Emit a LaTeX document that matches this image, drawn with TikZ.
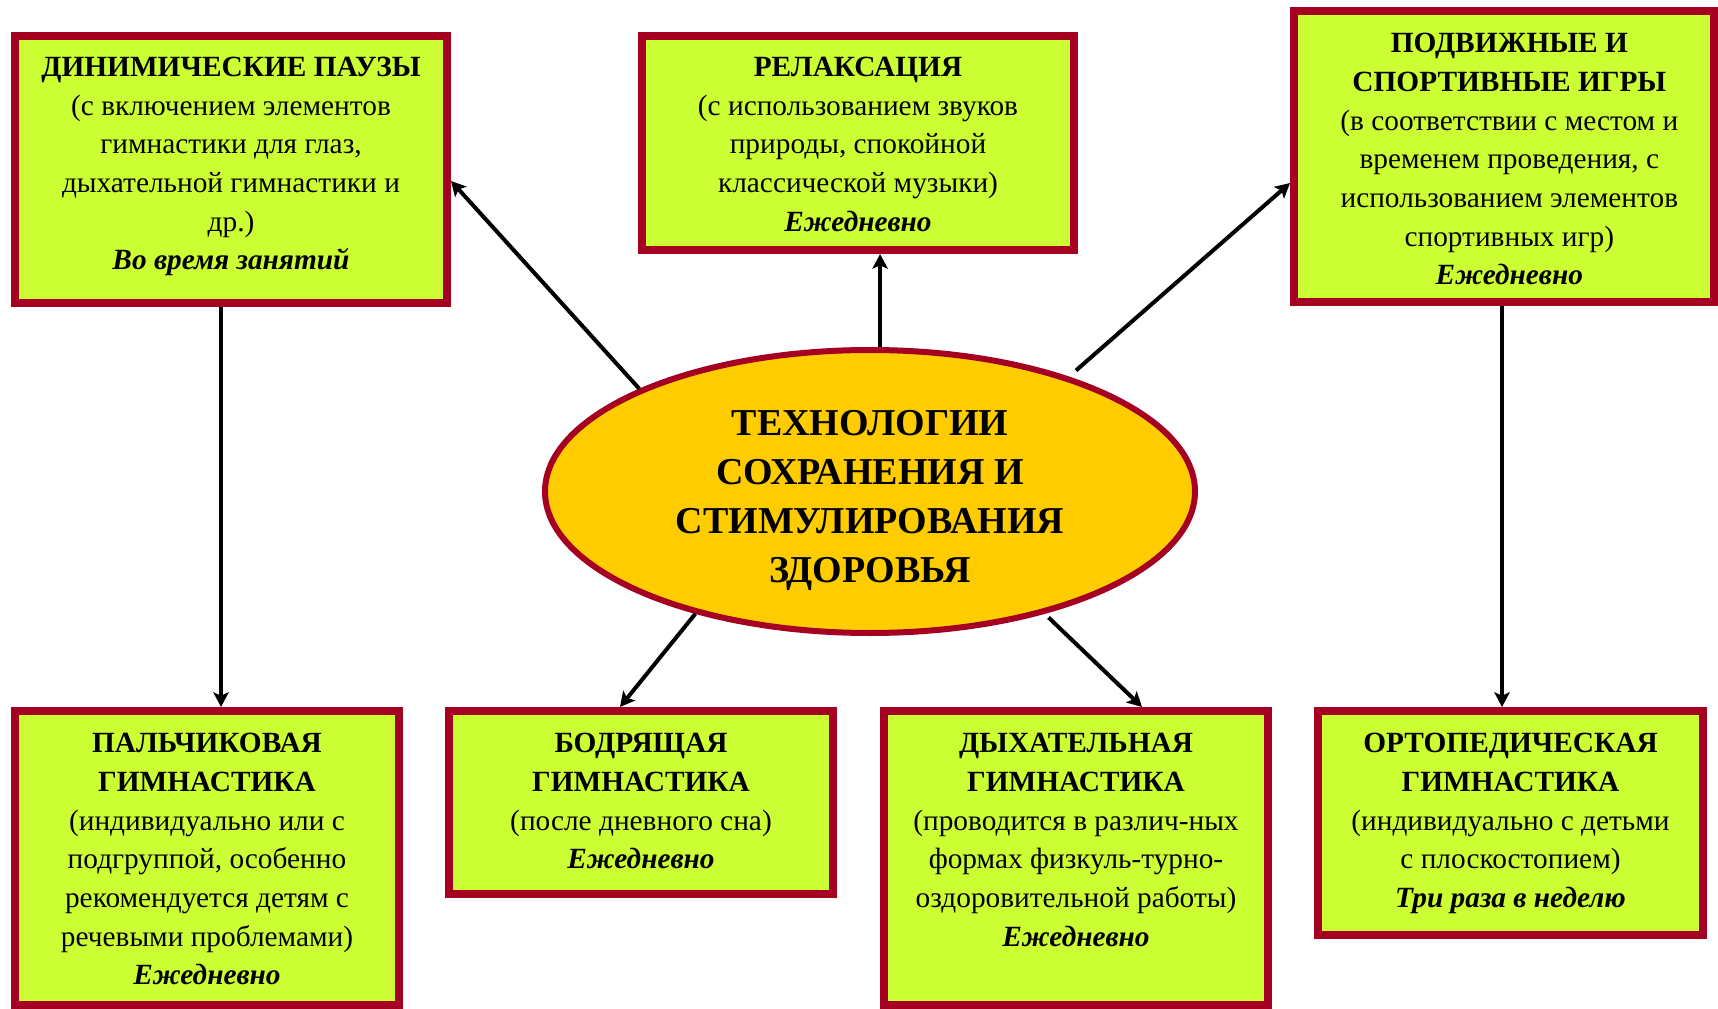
\documentclass[tikz,border=0pt]{standalone}
\usepackage{fontspec}
\setmainfont{Liberation Serif}
\usetikzlibrary{arrows.meta,shapes.geometric}
\definecolor{boxfill}{HTML}{CCFF33}
\definecolor{boxline}{HTML}{A50021}
\definecolor{ellfill}{HTML}{FFCC00}
\tikzset{
  box/.style={draw=boxline, fill=boxfill, line width=6pt, rectangle, inner sep=0pt},
  boxtext/.style={anchor=north, align=center, inner sep=0pt, text=black,
    font=\fontsize{22pt}{29pt}\selectfont},
  hub/.style={draw=boxline, fill=ellfill, line width=4.5pt, ellipse, inner sep=0pt,
    minimum width=487.5pt, minimum height=212.25pt},
  hubtext/.style={anchor=north, align=center, inner sep=0pt,
    font=\fontsize{28.5pt}{36.75pt}\selectfont\bfseries},
  arr/.style={line width=3pt, black, -{Stealth[length=11pt,width=11.5pt,inset=2.5pt]}}
}
\begin{document}
\begin{tikzpicture}[x=0.75pt,y=-0.75pt]
\useasboundingbox (0,0) rectangle (1718,1009);
% boxes
\node[box, minimum width=324pt, minimum height=200.25pt] (b1) at (231,169.5) {};
\node[box, minimum width=324pt, minimum height=160.5pt] (b2) at (858,143) {};
\node[box, minimum width=315pt, minimum height=218.25pt] (b3) at (1504,156.5) {};
\node[box, minimum width=288pt, minimum height=220.5pt] (b4) at (207,858) {};
\node[box, minimum width=288pt, minimum height=137.25pt] (b5) at (641,802.5) {};
\node[box, minimum width=288pt, minimum height=220.5pt] (b6) at (1076,858) {};
\node[box, minimum width=288.75pt, minimum height=168pt] (b7) at (1510.5,823) {};
% hub
\node[hub] (ell) at (870,491.5) {};
\node[hubtext] (ellt) at (870,401) {\strut ТЕХНОЛОГИИ\\СОХРАНЕНИЯ И\\СТИМУЛИРОВАНИЯ\\ЗДОРОВЬЯ};
% texts
\node[boxtext] (t1) at ([yshift=-13pt]b1.north) {\strut\textbf{ДИНИМИЧЕСКИЕ ПАУЗЫ}\\(с включением элементов\\гимнастики для глаз,\\дыхательной гимнастики и\\др.)\\\textbf{\textit{Во время занятий}}};
\node[boxtext] (t2) at ([yshift=-13pt]b2.north) {\strut\textbf{РЕЛАКСАЦИЯ}\\(с использованием звуков\\природы, спокойной\\классической музыки)\\\textbf{\textit{Ежедневно}}};
\node[boxtext] (t3) at ([xshift=4pt,yshift=-13.8pt]b3.north) {\strut\textbf{ПОДВИЖНЫЕ И}\\\textbf{СПОРТИВНЫЕ ИГРЫ}\\(в соответствии с местом и\\временем проведения, с\\использованием элементов\\спортивных игр)\\\textbf{\textit{Ежедневно}}};
\node[boxtext] (t4) at ([yshift=-13.8pt]b4.north) {\strut\textbf{ПАЛЬЧИКОВАЯ}\\\textbf{ГИМНАСТИКА}\\(индивидуально или с\\подгруппой, особенно\\рекомендуется детям с\\речевыми проблемами)\\\textbf{\textit{Ежедневно}}};
\node[boxtext] (t5) at ([yshift=-13.8pt]b5.north) {\strut\textbf{БОДРЯЩАЯ}\\\textbf{ГИМНАСТИКА}\\(после дневного сна)\\\textbf{\textit{Ежедневно}}};
\node[boxtext] (t6) at ([yshift=-13.8pt]b6.north) {\strut\textbf{ДЫХАТЕЛЬНАЯ}\\\textbf{ГИМНАСТИКА}\\(проводится в различ-ных\\формах физкуль-турно-\\оздоровительной работы)\\\textbf{\textit{Ежедневно}}};
\node[boxtext] (t7) at ([yshift=-13.8pt]b7.north) {\strut\textbf{ОРТОПЕДИЧЕСКАЯ}\\\textbf{ГИМНАСТИКА}\\(индивидуально с детьми\\с плоскостопием)\\\textbf{\textit{Три раза в неделю}}};
% connectors
\draw[arr] (ell.156) -- ([yshift=-8.6pt]b1.east);
\draw[arr] (ell.86.5) -- (ell.86.5 |- b2.south);
\draw[arr, shorten <=7pt] (ell.30) -- ([yshift=-19.9pt]b3.west);
\draw[arr] ([xshift=-7.5pt]b1.south) -- ([xshift=-7.5pt]b1.south |- b4.north);
\draw[arr] ([xshift=-1.5pt]b3.south) -- ([xshift=-1.5pt]b3.south |- b7.north);
\draw[arr] (ell.215.3) -- ([xshift=-15.75pt]b5.north);
\draw[arr, shorten <=4pt] (ell.325.9) -- ([xshift=49.5pt]b6.north);
\end{tikzpicture}
\end{document}
